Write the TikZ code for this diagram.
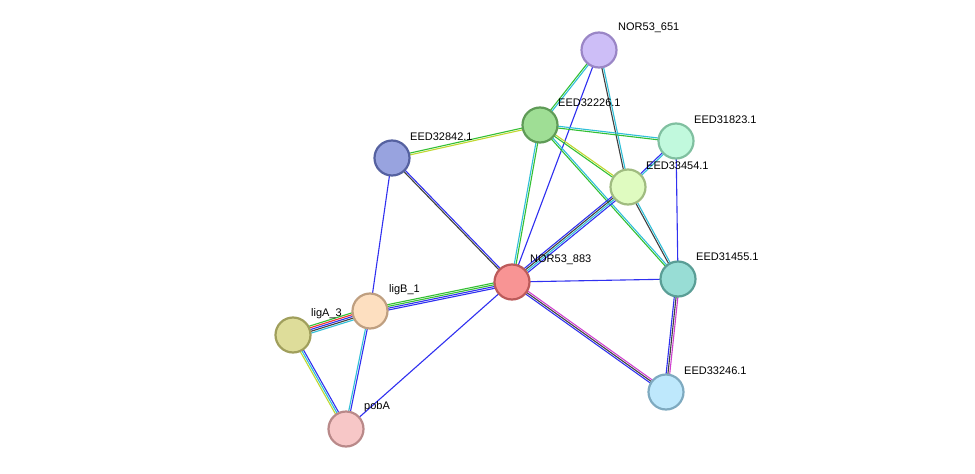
\documentclass[tikz,border=0pt]{standalone}
\usepackage{fontspec}
\setmainfont{Liberation Sans}
\usetikzlibrary{calc}
\definecolor{eg}{HTML}{33C033}
\definecolor{ec}{HTML}{30C0D8}
\definecolor{eb}{HTML}{3030F0}
\definecolor{ek}{HTML}{404040}
\definecolor{ey}{HTML}{C0D830}
\definecolor{em}{HTML}{D040D0}
\definecolor{er}{HTML}{F03030}
\newcommand\sedge[4]{\foreach \cc [count=\i] in {#4} {
  \pgfmathsetmacro\off{(\i-(#3+1)/2)*1.8}
  \draw[line width=1.1pt,color=\cc] ($(#1)!\off pt!90:(#2)$) -- ($(#2)!\off pt!-90:(#1)$);}}
\tikzset{prot/.style={circle,minimum size=35pt,inner sep=0pt,line width=2.2pt},
  lab/.style={font=\fontsize{11}{11}\selectfont,anchor=west,inner sep=0pt}}
\begin{document}
\begin{tikzpicture}[x=1pt,y=-1pt]
\useasboundingbox[fill=white] (0,0) rectangle (975,474);
\coordinate (a) at (599,50);
\coordinate (b) at (540,125);
\coordinate (c) at (676,141);
\coordinate (d) at (392,158);
\coordinate (e) at (628,187);
\coordinate (f) at (512,282);
\coordinate (g) at (678,279);
\coordinate (h) at (370,311);
\coordinate (i) at (293,335);
\coordinate (j) at (346,429);
\coordinate (k) at (666,392);
\sedge{a}{b}{2}{eg,ec}
\sedge{a}{f}{1}{eb}
\sedge{a}{e}{2}{ek,ec}
\sedge{b}{d}{2}{eg,ey}
\sedge{b}{c}{2}{eg,ec}
\sedge{b}{e}{2}{eg,ey}
\sedge{b}{g}{2}{eg,ec}
\sedge{b}{f}{2}{ec,eg}
\sedge{c}{e}{2}{eb,ec}
\sedge{c}{g}{1}{eb}
\sedge{e}{g}{2}{ek,ec}
\sedge{e}{f}{4}{eb,ek,ec,eb}
\sedge{d}{f}{2}{ek,eb}
\sedge{d}{h}{1}{eb}
\sedge{f}{g}{1}{eb}
\sedge{f}{k}{3}{eb,ek,em}
\sedge{g}{k}{3}{eb,ek,em}
\sedge{f}{h}{4}{eg,eg,eb,eb}
\sedge{f}{j}{1}{eb}
\sedge{i}{h}{5}{ec,ek,eb,er,eg}
\sedge{h}{j}{2}{ec,eb}
\sedge{i}{j}{3}{ey,ec,eb}
\node[prot,fill={rgb,255:red,205;green,190;blue,247},draw={rgb,255:red,154;green,134;blue,198}] (A) at (a) {};
\node[prot,fill={rgb,255:red,159;green,222;blue,149},draw={rgb,255:red,95;green,155;blue,87}] (B) at (b) {};
\node[prot,fill={rgb,255:red,193;green,249;blue,221},draw={rgb,255:red,128;green,192;blue,160}] (C) at (c) {};
\node[prot,fill={rgb,255:red,152;green,163;blue,223},draw={rgb,255:red,85;green,97;blue,160}] (D) at (d) {};
\node[prot,fill={rgb,255:red,223;green,251;blue,192},draw={rgb,255:red,160;green,188;blue,128}] (E) at (e) {};
\node[prot,fill={rgb,255:red,248;green,148;blue,148},draw={rgb,255:red,188;green,90;blue,90}] (F) at (f) {};
\node[prot,fill={rgb,255:red,152;green,221;blue,213},draw={rgb,255:red,90;green,158;blue,150}] (G) at (g) {};
\node[prot,fill={rgb,255:red,253;green,223;blue,192},draw={rgb,255:red,191;green,159;blue,128}] (H) at (h) {};
\node[prot,fill={rgb,255:red,222;green,221;blue,154},draw={rgb,255:red,160;green,159;blue,92}] (I) at (i) {};
\node[prot,fill={rgb,255:red,247;green,199;blue,199},draw={rgb,255:red,185;green,137;blue,137}] (J) at (j) {};
\node[prot,fill={rgb,255:red,190;green,232;blue,252},draw={rgb,255:red,126;green,170;blue,192}] (K) at (k) {};
\node[lab] (la) at (618,28) {NOR53\_651};
\node[lab] (lb) at (558,103) {EED32226.1};
\node[lab] (lc) at (694,120) {EED31823.1};
\node[lab] (ld) at (410,137) {EED32842.1};
\node[lab] (le) at (646,166) {EED33454.1};
\node[lab] (lf) at (530,260) {NOR53\_883};
\node[lab] (lg) at (696,257) {EED31455.1};
\node[lab] (lh) at (389,290) {ligB\_1};
\node[lab] (li) at (311,314) {ligA\_3};
\node[lab] (lj) at (364,407) {pobA};
\node[lab] (lk) at (684,371) {EED33246.1};
\end{tikzpicture}
\end{document}
